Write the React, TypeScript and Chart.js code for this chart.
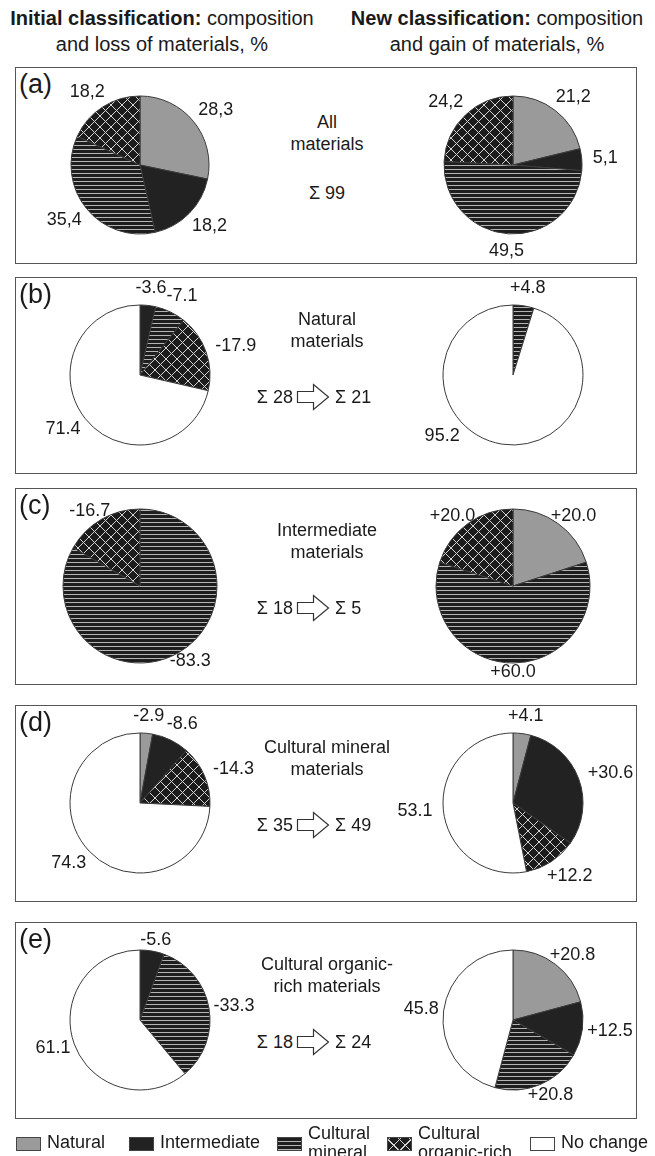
import React, { useEffect, useRef } from 'react';
import { Chart, registerables } from 'chart.js';

Chart.register(...registerables);

// ---------- data ----------
const CATEGORIES = ['Natural', 'Intermediate', 'Cultural mineral', 'Cultural organic-rich', 'No change'];

const ALL_INITIAL = [28.3, 18.2, 35.4, 18.2, 0];
const ALL_NEW = [21.2, 5.1, 49.5, 24.2, 0];
const NATURAL_LOSS = [0, 3.6, 7.1, 17.9, 71.4];
const NATURAL_GAIN = [0, 0, 4.8, 0, 95.2];
const INTERMEDIATE_LOSS = [0, 0, 83.3, 16.7, 0];
const INTERMEDIATE_GAIN = [20.0, 0, 60.0, 20.0, 0];
const MINERAL_LOSS = [2.9, 8.6, 0, 14.3, 74.3];
const MINERAL_GAIN = [4.1, 30.6, 0, 12.2, 53.1];
const ORGANIC_LOSS = [0, 5.6, 33.3, 0, 61.1];
const ORGANIC_GAIN = [20.8, 12.5, 20.8, 0, 45.8];

const PANEL_LETTERS = ['(a)', '(b)', '(c)', '(d)', '(e)'];
const PANEL_TITLES = [
  ['All', 'materials'],
  ['Natural', 'materials'],
  ['Intermediate', 'materials'],
  ['Cultural mineral', 'materials'],
  ['Cultural organic-', 'rich materials'],
];
const SUM_BEFORE = [99, 28, 18, 35, 18];
const SUM_AFTER: (number | null)[] = [null, 21, 5, 49, 24];

const LEGEND_LABELS = [['Natural'], ['Intermediate'], ['Cultural', 'mineral'], ['Cultural', 'organic-rich'], ['No change']];

// ---------- style / layout ----------
const FONT = '"Liberation Sans", Arial, Helvetica, sans-serif';
const TEXT = '#1a1a1a';
const LABEL_SIZE = 18;
const PANEL_GAPS = [11, 11, 3, 11, 5];
const FRAME_LEFT = 15;
const FRAME_WIDTH = 622;
const FRAME_TOPS = [67, 277, 488, 705, 922];
const FRAME_H = 197;
const PIE_RADII = [69, 70, 77, 70, 70];
const LEFT_CX = 140;
const RIGHT_CX = 513;
const MID_X = 327;
const CANVAS_W = 256;
const CANVAS_H = 230;

function makePatterns() {
  const st = document.createElement('canvas');
  st.width = 4; st.height = 4;
  const s = st.getContext('2d')!;
  s.fillStyle = '#1e1e1e'; s.fillRect(0, 0, 4, 4);
  s.fillStyle = '#b4b4b4'; s.fillRect(0, 3, 4, 1);
  const ht = document.createElement('canvas');
  const T = 11;
  ht.width = T; ht.height = T;
  const h = ht.getContext('2d')!;
  h.fillStyle = '#1c1c1c'; h.fillRect(0, 0, T, T);
  h.strokeStyle = '#d4d4d4'; h.lineWidth = 1;
  for (const k of [-T, 0, T]) {
    h.beginPath(); h.moveTo(k - 1, -1); h.lineTo(k + T + 1, T + 1); h.stroke();
    h.beginPath(); h.moveTo(k + T + 1, -1); h.lineTo(k - 1, T + 1); h.stroke();
  }
  const c = document.createElement('canvas').getContext('2d')!;
  return { stripe: c.createPattern(st, 'repeat')!, hatch: c.createPattern(ht, 'repeat')! };
}

function formatLabels(values: number[], mode: 'comma' | 'loss' | 'gain'): string[] {
  return values.map((v, i) => {
    if (!v) return '';
    if (mode === 'comma') return v.toFixed(1).replace('.', ',');
    if (i === 4) return v.toFixed(1);
    return (mode === 'loss' ? '-' : '+') + v.toFixed(1);
  });
}

type PieProps = {
  values: number[];
  texts: string[];
  cx: number;
  cy: number;
  radius: number;
  gap: number;
  clockOverride?: Record<number, number>;
};

function Pie({ values, texts, cx, cy, radius, gap, clockOverride }: PieProps) {
  const ref = useRef<HTMLCanvasElement>(null);
  useEffect(() => {
    const pats = makePatterns();
    const fills: any[] = ['#9a9a9a', '#222222', pats.stripe, pats.hatch, '#ffffff'];
    const labelPlugin = {
      id: 'sliceLabels',
      afterDatasetsDraw(chart: any) {
        const ctx = chart.ctx as CanvasRenderingContext2D;
        const meta = chart.getDatasetMeta(0);
        ctx.save();
        ctx.font = `${LABEL_SIZE}px ${FONT}`;
        ctx.fillStyle = TEXT;
        ctx.textAlign = 'center';
        ctx.textBaseline = 'middle';
        meta.data.forEach((el: any, i: number) => {
          const t = texts[i];
          if (!t) return;
          const p = el.getProps(['x', 'y', 'startAngle', 'endAngle', 'outerRadius'], true);
          let mid = (p.startAngle + p.endAngle) / 2;
          if (clockOverride && clockOverride[i] != null) mid = -Math.PI / 2 + (clockOverride[i] * Math.PI) / 180;
          const dx = Math.cos(mid), dy = Math.sin(mid);
          const w = ctx.measureText(t).width;
          const hh = LABEL_SIZE * 0.72;
          const r = p.outerRadius + gap;
          ctx.fillText(t, p.x + dx * r + (dx * w) / 2, p.y + dy * r + (dy * hh) / 2);
        });
        ctx.restore();
      },
    };
    const chart = new Chart(ref.current!, {
      type: 'pie',
      data: {
        labels: CATEGORIES,
        datasets: [
          {
            data: values,
            backgroundColor: fills,
            borderColor: '#3a3a3a',
            borderWidth: 1,
            hoverOffset: 0,
          } as any,
        ],
      },
      options: {
        animation: false,
        responsive: false,
        maintainAspectRatio: false,
        radius,
        rotation: 0,
        events: [],
        plugins: { legend: { display: false }, tooltip: { enabled: false } },
      } as any,
      plugins: [labelPlugin],
    });
    return () => chart.destroy();
  }, []);
  return (
    <canvas
      ref={ref}
      width={CANVAS_W}
      height={CANVAS_H}
      style={{ position: 'absolute', left: cx - CANVAS_W / 2, top: cy - CANVAS_H / 2, width: CANVAS_W, height: CANVAS_H }}
    />
  );
}

function Arrow() {
  return (
    <svg width={34} height={28} viewBox="0 0 34 28" style={{ display: 'block' }}>
      <path d="M1.5 8.5 H17.5 V1.5 L32.5 14 L17.5 26.5 V19.5 H1.5 Z" fill="#fff" stroke="#333" strokeWidth={1.2} strokeLinejoin="miter" />
    </svg>
  );
}

const STRIPE_CSS = 'repeating-linear-gradient(to bottom, #1e1e1e 0px, #1e1e1e 3px, #b4b4b4 3px, #b4b4b4 4px)';
const HATCH_CSS =
  'repeating-linear-gradient(45deg, transparent 0px, transparent 7px, #d4d4d4 7px, #d4d4d4 8px), repeating-linear-gradient(-45deg, transparent 0px, transparent 7px, #d4d4d4 7px, #d4d4d4 8px), #1c1c1c';
const LEGEND_FILLS = ['#9a9a9a', '#222222', STRIPE_CSS, HATCH_CSS, '#ffffff'];
const LEGEND_X = [16, 129, 277, 387, 530];

export default function App() {
  const leftData = [ALL_INITIAL, NATURAL_LOSS, INTERMEDIATE_LOSS, MINERAL_LOSS, ORGANIC_LOSS];
  const rightData = [ALL_NEW, NATURAL_GAIN, INTERMEDIATE_GAIN, MINERAL_GAIN, ORGANIC_GAIN];
  const rightOverrides: (Record<number, number> | undefined)[] = [undefined, { 4: 226 }, undefined, undefined, undefined];

  return (
    <div
      style={{
        position: 'absolute', left: 0, top: 0, width: 655, height: 1156, overflow: 'hidden',
        background: '#fff', fontFamily: FONT, color: TEXT,
      }}
    >
      {/* headers */}
      <div style={{ position: 'absolute', left: 162 - 170, width: 340, top: 5, textAlign: 'center', fontSize: 20, lineHeight: '26px' }}>
        <b>Initial classification:</b> composition<br />and loss of materials, %
      </div>
      <div style={{ position: 'absolute', left: 497 - 170, width: 340, top: 5, textAlign: 'center', fontSize: 20, lineHeight: '26px' }}>
        <b>New classification:</b> composition<br />and gain of materials, %
      </div>

      {FRAME_TOPS.map((top, k) => {
        const cy = top + 98;
        const isA = k === 0;
        const titleTop = isA ? top + 44 : top + 31;
        const sigmaCy = isA ? top + 126 : top + 120;
        return (
          <React.Fragment key={k}>
            <div
              style={{
                position: 'absolute', left: FRAME_LEFT, top, width: FRAME_WIDTH, height: FRAME_H,
                border: '1.5px solid #555', boxSizing: 'border-box',
              }}
            />
            <div style={{ position: 'absolute', left: 19, top: top + 3, fontSize: 27, lineHeight: '28px' }}>{PANEL_LETTERS[k]}</div>
            <div style={{ position: 'absolute', left: MID_X - 100, width: 200, top: titleTop, textAlign: 'center', fontSize: 18, lineHeight: '22px' }}>
              {PANEL_TITLES[k][0]}<br />{PANEL_TITLES[k][1]}
            </div>
            {SUM_AFTER[k] == null ? (
              <div style={{ position: 'absolute', left: MID_X - 60, width: 120, top: sigmaCy - 12, textAlign: 'center', fontSize: 18, lineHeight: '24px' }}>
                Σ {SUM_BEFORE[k]}
              </div>
            ) : (
              <>
                <div style={{ position: 'absolute', left: 293 - 80, width: 80, top: sigmaCy - 12, textAlign: 'right', fontSize: 18, lineHeight: '24px' }}>
                  Σ {SUM_BEFORE[k]}
                </div>
                <div style={{ position: 'absolute', left: 296, top: sigmaCy - 14 }}>
                  <Arrow />
                </div>
                <div style={{ position: 'absolute', left: 335, width: 80, top: sigmaCy - 12, textAlign: 'left', fontSize: 18, lineHeight: '24px' }}>
                  Σ {SUM_AFTER[k]}
                </div>
              </>
            )}
            <Pie
              values={leftData[k]}
              texts={formatLabels(leftData[k], isA ? 'comma' : 'loss')}
              cx={LEFT_CX}
              cy={cy}
              radius={PIE_RADII[k]}
              gap={PANEL_GAPS[k]}
            />
            <Pie
              values={rightData[k]}
              texts={formatLabels(rightData[k], isA ? 'comma' : 'gain')}
              cx={RIGHT_CX}
              cy={cy}
              radius={PIE_RADII[k]}
              gap={PANEL_GAPS[k]}
              clockOverride={rightOverrides[k]}
            />
          </React.Fragment>
        );
      })}

      {/* legend */}
      {CATEGORIES.map((c, i) => (
        <React.Fragment key={c}>
          <div
            style={{
              position: 'absolute', left: LEGEND_X[i], top: 1137, width: 25, height: 14,
              background: LEGEND_FILLS[i], border: '1px solid #444', boxSizing: 'border-box',
            }}
          />
          <div
            style={{
              position: 'absolute', left: LEGEND_X[i] + 31,
              top: LEGEND_LABELS[i].length > 1 ? 1124 : 1133,
              fontSize: 18, lineHeight: '19px', whiteSpace: 'nowrap',
            }}
          >
            {LEGEND_LABELS[i].map((l, j) => (
              <div key={j}>{l}</div>
            ))}
          </div>
        </React.Fragment>
      ))}
    </div>
  );
}
